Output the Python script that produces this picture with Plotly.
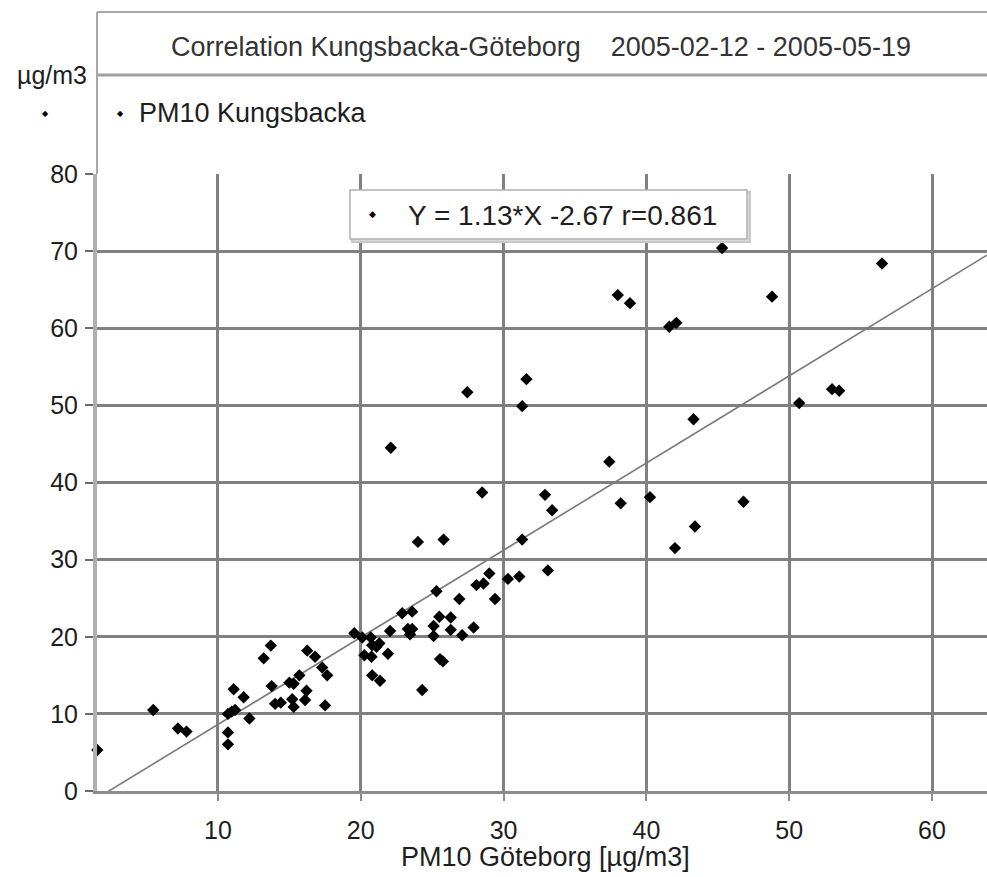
import plotly.graph_objects as go

# PM10 Göteborg (x) vs PM10 Kungsbacka (y), µg/m3
goteborg = [1.55, 5.47, 7.2, 7.8, 10.7, 10.7, 10.7, 10.96, 11.2, 12.2,
            11.1, 11.8, 13.2, 13.7, 13.76, 14.0, 14.4, 15.2, 15.3, 15.0,
            15.3, 15.7, 16.2, 16.1, 16.25, 16.8, 17.3, 17.65, 17.5, 19.55,
            20.1, 20.7, 20.8, 21.3, 21.1, 20.25, 20.75, 21.9, 20.8, 21.35,
            22.05, 23.3, 23.6, 23.45, 22.9, 23.6, 24.3, 25.1, 25.1, 25.5,
            26.3, 26.3, 27.9, 27.1, 25.55, 25.75, 25.3, 26.9, 29.4, 28.1,
            28.6, 29.0, 30.3, 31.1, 33.1, 24.0, 25.8, 31.3, 28.5, 32.9,
            33.4, 22.1, 27.46, 31.3, 31.6, 37.4, 38.2, 40.25, 46.8, 43.4,
            42.0, 43.3, 38.0, 38.85, 41.6, 42.1, 45.3, 48.8, 56.5, 50.7,
            53.0, 53.5]
kungsbacka = [5.3, 10.5, 8.1, 7.7, 7.6, 6.05, 10.0, 10.3, 10.5, 9.4,
              13.2, 12.15, 17.2, 18.85, 13.6, 11.3, 11.45, 11.9, 10.9, 14.05,
              13.9, 15.0, 13.0, 11.8, 18.2, 17.4, 16.0, 15.0, 11.1, 20.45,
              19.9, 19.9, 18.9, 19.15, 18.7, 17.6, 17.4, 17.8, 15.0, 14.3,
              20.75, 21.0, 21.0, 20.3, 23.05, 23.25, 13.1, 20.1, 21.4, 22.6,
              22.5, 20.9, 21.2, 20.2, 17.1, 16.8, 25.9, 24.9, 24.9, 26.7,
              26.9, 28.2, 27.5, 27.8, 28.6, 32.3, 32.6, 32.6, 38.7, 38.4,
              36.4, 44.5, 51.7, 49.9, 53.4, 42.7, 37.3, 38.1, 37.5, 34.3,
              31.5, 48.2, 64.3, 63.25, 60.2, 60.7, 70.4, 64.1, 68.4, 50.3,
              52.1, 51.9]

slope = 1.13
intercept = -2.67
r_value = 0.861

x_ticks = [10, 20, 30, 40, 50, 60]
y_ticks = [0, 10, 20, 30, 40, 50, 60, 70, 80]

title_text = "Correlation Kungsbacka-Göteborg &nbsp;&nbsp; 2005-02-12 - 2005-05-19"
series_name = "PM10 Kungsbacka"
x_title = "PM10 Göteborg [µg/m3]"
y_unit = "µg/m3"

x_range = [1.53, 63.85]
y_range = [0, 80]

FONT = "Liberation Sans, Arial, sans-serif"
TXT = "#1e1e1e"
GRID = "#808080"
TXT_SIZE = 27
TICK_SIZE = 25

fig = go.Figure()

fit_x = [x_range[0], x_range[1]]
fit_y = [slope * v + intercept for v in fit_x]
fig.add_trace(go.Scatter(x=fit_x, y=fit_y, mode="lines",
                         line=dict(color="#7a7a7a", width=1.6),
                         hoverinfo="skip", showlegend=False))

fig.add_trace(go.Scatter(x=goteborg, y=kungsbacka, mode="markers",
                         name=series_name,
                         marker=dict(symbol="diamond", size=9.5, color="black"),
                         showlegend=False, cliponaxis=False))

W, H = 987, 877
L, R, T, B = 97, 0, 174, 86
pw, ph = W - L - R, H - T - B


def px(xp):
    return (xp - L) / pw


def py(yp):
    return (H - B - yp) / ph


shapes = [
    dict(type="line", xref="paper", yref="paper", x0=0, x1=1, y0=py(12), y1=py(12),
         line=dict(color="#a8a8a8", width=2)),
    dict(type="line", xref="paper", yref="paper", x0=0, x1=1, y0=py(75), y1=py(75),
         line=dict(color="#a0a0a0", width=3)),
    dict(type="line", xref="paper", yref="paper", x0=0, x1=0, y0=py(12), y1=1,
         line=dict(color="#a8a8a8", width=2)),
    dict(type="rect", xref="paper", yref="paper", x0=px(352), x1=px(750),
         y0=py(242), y1=py(192), line=dict(color="#c8c8c8", width=2),
         fillcolor="#d8d8d8", layer="above"),
    dict(type="rect", xref="paper", yref="paper", x0=px(350), x1=px(747),
         y0=py(239), y1=py(190), line=dict(color="#b0b0b0", width=1.5),
         fillcolor="white", layer="above"),
]

annotations = [
    dict(text=title_text, xref="paper", yref="paper", x=px(541), y=py(47),
         showarrow=False, font=dict(family=FONT, size=TXT_SIZE, color="#333333"),
         xanchor="center", yanchor="middle"),
    dict(text=y_unit, xref="paper", yref="paper", x=px(52), y=py(75),
         showarrow=False, font=dict(family=FONT, size=TXT_SIZE - 2, color=TXT),
         xanchor="center", yanchor="middle"),
    dict(text="◆", xref="paper", yref="paper", x=px(45), y=py(113),
         showarrow=False, font=dict(family="DejaVu Sans", size=8, color="black"),
         xanchor="center", yanchor="middle"),
    dict(text="◆", xref="paper", yref="paper", x=px(120), y=py(113),
         showarrow=False, font=dict(family="DejaVu Sans", size=8, color="black"),
         xanchor="center", yanchor="middle"),
    dict(text=series_name, xref="paper", yref="paper", x=px(137), y=py(113),
         showarrow=False, font=dict(family=FONT, size=TXT_SIZE, color=TXT),
         xanchor="left", yanchor="middle"),
    dict(text="◆", xref="paper", yref="paper", x=px(372), y=py(214),
         showarrow=False, font=dict(family="DejaVu Sans", size=9, color="black"),
         xanchor="center", yanchor="middle"),
    dict(text=f"Y = {slope:.2f}*X {intercept:.2f} r={r_value:.3f}", xref="paper", yref="paper",
         x=px(406), y=py(215),
         showarrow=False, font=dict(family=FONT, size=TXT_SIZE + 1, color=TXT),
         xanchor="left", yanchor="middle"),
    dict(text=x_title, xref="paper", yref="paper", x=px(545), y=py(857),
         showarrow=False, font=dict(family=FONT, size=TXT_SIZE, color=TXT),
         xanchor="center", yanchor="middle"),
]

fig.update_layout(
    width=W, height=H,
    margin=dict(l=L, r=R, t=T, b=B, pad=0),
    paper_bgcolor="white", plot_bgcolor="white",
    showlegend=False,
    shapes=shapes, annotations=annotations,
    xaxis=dict(range=x_range, tickvals=x_ticks, ticktext=[str(v) for v in x_ticks],
               showgrid=True, gridcolor=GRID, gridwidth=2.5, zeroline=False,
               showline=True, linecolor="#8c8c8c", linewidth=3,
               ticks="outside", ticklen=7, tickwidth=2, tickcolor="#8c8c8c",
               ticklabelstandoff=8,
               tickfont=dict(family=FONT, size=TICK_SIZE, color=TXT)),
    yaxis=dict(range=y_range, tickvals=y_ticks, ticktext=[str(v) for v in y_ticks],
               showgrid=True, gridcolor=GRID, gridwidth=2.5, zeroline=False,
               showline=True, linecolor="#b0b0b0", linewidth=4,
               ticks="outside", ticklen=8, tickwidth=2, tickcolor="#6a6a6a",
               ticklabelstandoff=2,
               tickfont=dict(family=FONT, size=TICK_SIZE, color=TXT)),
)

fig.write_html("out.html",
               config={"displayModeBar": False},
               post_script="document.body.style.margin='0px';document.body.style.overflow='hidden';")
